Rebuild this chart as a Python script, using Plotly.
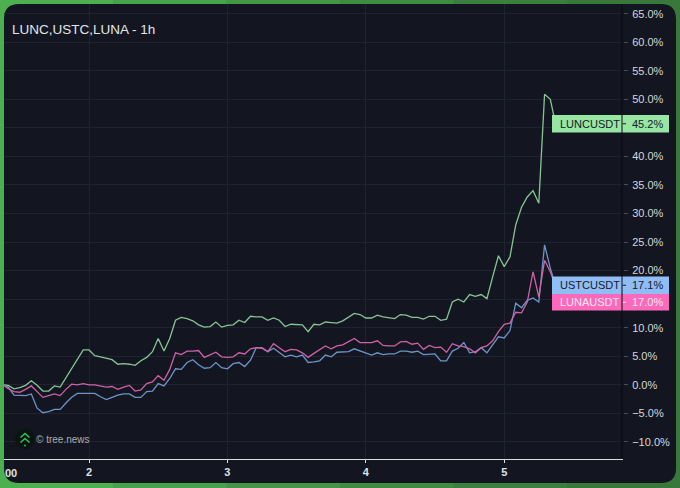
import plotly.graph_objects as go

W, H = 680, 488

lunc = [0, -0.1, -0.7, -0.5, -0.1, 0.7, -0.1, -1.1, -1.1, -0.2, -0.4, 1.2, 2.9, 4.5, 6.1, 6.1, 5.1, 4.9, 4.6, 4.4,
        3.6, 3.7, 3.6, 3.4, 4.2, 4.8, 5.8, 8.1, 5.9, 8.1, 11.3, 11.8, 11.6, 11.2, 10.5, 10.1, 10.2, 11.0, 10.1, 10.4,
        10.5, 11.3, 10.9, 12.0, 11.9, 11.9, 11.3, 11.7, 11.3, 10.2, 10.6, 10.6, 10.5, 9.3, 10.6, 10.5, 11.0, 10.9, 10.8, 11.2,
        11.9, 12.5, 12.3, 11.7, 11.7, 12.2, 11.9, 11.7, 11.6, 12.3, 12.2, 11.8, 11.8, 11.5, 12.0, 12.0, 11.3, 11.5, 14.5, 15.0,
        14.5, 15.8, 15.5, 15.8, 15.1, 18.9, 22.6, 20.7, 22.4, 28.0, 31.1, 32.9, 34.0, 31.8, 50.9, 50.0, 45.2]
ustc = [0, -0.4, -1.8, -1.9, -1.9, -1.6, -4.1, -4.9, -4.7, -4.3, -4.3, -3.2, -2.2, -1.5, -1.5, -1.5, -1.5, -2.1, -2.6, -2.2,
        -1.8, -1.6, -1.6, -2.2, -2.2, -1.2, -1.1, 0.2, -0.2, 1.1, 2.8, 2.7, 3.9, 4.4, 3.5, 2.9, 3.0, 3.9, 3.0, 2.8,
        3.7, 3.9, 3.2, 4.3, 6.5, 6.5, 5.8, 6.4, 5.7, 4.9, 5.2, 4.9, 5.2, 3.9, 4.0, 4.2, 5.2, 4.9, 5.7, 5.8,
        5.8, 6.3, 5.9, 5.5, 5.2, 5.6, 5.3, 5.4, 5.4, 5.9, 5.9, 5.7, 5.9, 5.3, 5.4, 5.4, 4.2, 4.2, 5.9, 6.4,
        7.4, 5.6, 5.8, 6.5, 5.6, 7.0, 8.4, 8.2, 9.5, 14.3, 13.5, 14.8, 15.2, 14.5, 24.5, 20.4, 17.1]
luna = [0, -0.7, -1.2, -1.3, -0.8, -0.2, -1.2, -2.2, -1.9, -1.6, -1.9, -0.8, 0.1, 0, 0.2, 0, 0, -0.2, -0.4, -0.3,
        -0.8, -0.4, -0.1, -1.1, -0.9, 0.2, 0.5, 1.6, 0.8, 2.7, 5.6, 5.3, 5.9, 5.9, 6.0, 4.8, 5.3, 5.7, 4.9, 4.8,
        4.9, 5.6, 5.4, 6.3, 6.5, 6.4, 5.8, 7.2, 6.5, 5.8, 6.2, 6.1, 5.6, 4.8, 5.5, 6.2, 6.8, 6.3, 6.8, 7.0,
        7.5, 8.1, 7.4, 7.4, 7.4, 7.7, 6.9, 6.8, 6.8, 7.5, 7.6, 7.1, 7.3, 6.2, 6.9, 6.5, 6.6, 5.7, 7.2, 6.8,
        6.7, 6.3, 5.6, 6.5, 6.8, 7.7, 9.3, 10.6, 10.8, 12.7, 12.6, 14.5, 19.8, 15.4, 21.8, 19.8, 17.0]
hours = list(range(len(lunc)))

y_ticks = [65, 60, 55, 50, 45, 40, 35, 30, 25, 20, 15, 10, 5, 0, -5, -10]
y_hidden = [45, 15]  # covered by the price labels in the reference
y_labels = ["" if v in y_hidden else f"{v:.1f}%".replace("-", "\u2212") for v in y_ticks]
x_ticks = [15, 39, 63, 87]
x_labels = ["2", "3", "4", "5"]

GREEN_STOPS = ["#4caf50", "#47a34b", "#429646", "#3e8b42", "#3a7f3d", "#38793b"]
PANEL = "#131620"
GRID = "#1f2330"
FONT = "Liberation Sans"


def px(x):
    return x / W


def py(y):
    return 1 - y / H


def path(points, close=False):
    s = " ".join(("M" if i == 0 else "L") + f" {px(a):.5f} {py(b):.5f}" for i, (a, b) in enumerate(points))
    return s + (" Z" if close else "")


def rounded(l, t, r, b, rad):
    k = rad
    return (f"M {px(l+k):.5f} {py(t):.5f} L {px(r-k):.5f} {py(t):.5f} "
            f"Q {px(r):.5f} {py(t):.5f} {px(r):.5f} {py(t+k):.5f} L {px(r):.5f} {py(b-k):.5f} "
            f"Q {px(r):.5f} {py(b):.5f} {px(r-k):.5f} {py(b):.5f} L {px(l+k):.5f} {py(b):.5f} "
            f"Q {px(l):.5f} {py(b):.5f} {px(l):.5f} {py(b-k):.5f} L {px(l):.5f} {py(t+k):.5f} "
            f"Q {px(l):.5f} {py(t):.5f} {px(l+k):.5f} {py(t):.5f} Z")


fig = go.Figure()
for name, vals, col in [("LUNCUSDT", lunc, "#86c592"), ("USTCUSDT", ustc, "#6c94c8"), ("LUNAUSDT", luna, "#cf62a6")]:
    fig.add_trace(go.Scatter(x=hours, y=vals, mode="lines", name=name, line=dict(color=col, width=1.3), hoverinfo="skip"))

shapes = []
band = W / len(GREEN_STOPS)
for i, c in enumerate(GREEN_STOPS):
    shapes.append(dict(type="rect", xref="paper", yref="paper", x0=px(i * band), x1=px((i + 1) * band), y0=0, y1=1,
                       fillcolor=c, line=dict(width=0), layer="below"))
shapes.append(dict(type="path", xref="paper", yref="paper", path=rounded(4, 4, 676, 483, 15),
                   fillcolor=PANEL, line=dict(width=0), layer="below"))

# price labels
boxes = [("LUNCUSDT", "45.2%", 115, 132.5, "#98e6a3", "#14202a"),
         ("USTCUSDT", "17.1%", 276.5, 294, "#90bdf5", "#14202a"),
         ("LUNAUSDT", "17.0%", 294, 310.5, "#fb69bb", "#fde8f3")]
annotations = []
for name, val, t, b, fill, txt in boxes:
    shapes.append(dict(type="rect", xref="paper", yref="paper", x0=px(552), x1=px(669), y0=py(t), y1=py(b),
                       fillcolor=fill, line=dict(width=0), layer="above"))
    mid = (t + b) / 2
    shapes.append(dict(type="line", xref="paper", yref="paper", x0=px(622.5), x1=px(626), y0=py(mid), y1=py(mid),
                       line=dict(color=txt, width=1), layer="above"))
    annotations.append(dict(text=name, xref="paper", yref="paper", x=px(558), y=py(mid), xanchor="left", yanchor="middle",
                            showarrow=False, font=dict(family=FONT, size=11, color=txt)))
    annotations.append(dict(text=val, xref="paper", yref="paper", x=px(630), y=py(mid), xanchor="left", yanchor="middle",
                            showarrow=False, font=dict(family=FONT, size=11, color=txt)))
shapes.append(dict(type="line", xref="paper", yref="paper", x0=px(622), x1=px(622), y0=py(4), y1=py(459),
                   line=dict(color="#08090d", width=1), layer="above"))

# logo
shapes.append(dict(type="circle", xref="paper", yref="paper", x0=px(15), x1=px(35), y0=py(449), y1=py(429),
                   fillcolor="#0b1410", line=dict(width=0), layer="above"))
for pts in ([(20.5, 437.5), (25, 433.5), (29.5, 437.5)], [(20.5, 442.5), (25, 438.5), (29.5, 442.5)]):
    shapes.append(dict(type="path", xref="paper", yref="paper", path=path(pts),
                       line=dict(color="#2fc25b", width=1.6), layer="above"))
shapes.append(dict(type="circle", xref="paper", yref="paper", x0=px(24), x1=px(26), y0=py(446.5), y1=py(444.5),
                   fillcolor="#2fc25b", line=dict(width=0), layer="above"))

annotations += [
    dict(text="LUNC,USTC,LUNA - 1h", xref="paper", yref="paper", x=px(10), y=py(29), xanchor="left", yanchor="middle",
         showarrow=False, font=dict(family=FONT, size=13.5, color="#e3e5e8")),
    dict(text="© tree.news", xref="paper", yref="paper", x=px(34), y=py(439.5), xanchor="left", yanchor="middle",
         showarrow=False, font=dict(family=FONT, size=10, color="#a8abb2")),
    dict(text="00", xref="paper", yref="paper", x=px(3), y=py(472.5), xanchor="left", yanchor="middle",
         showarrow=False, font=dict(family=FONT, size=11, color="#dfe1e5", weight=700)),
]

fig.update_layout(
    width=W, height=H, autosize=False,
    margin=dict(l=0, r=0, t=0, b=0, pad=0),
    paper_bgcolor="#429646", plot_bgcolor="rgba(0,0,0,0)",
    showlegend=False, shapes=shapes, annotations=annotations,
    xaxis=dict(domain=[px(4), px(623)], range=[0.26, 107.6], tickmode="array", tickvals=x_ticks, ticktext=x_labels,
               showgrid=True, gridcolor=GRID, gridwidth=1, zeroline=False, showline=True, linecolor="#d9dbe0", linewidth=1,
               ticks="outside", ticklen=3, tickcolor="#d9dbe0",
               tickfont=dict(family=FONT, size=11, color="#dfe1e5", weight=700)),
    yaxis=dict(domain=[py(459), py(4)], range=[-13.0, 66.7], side="right", tickmode="array", tickvals=y_ticks, ticktext=y_labels,
               showgrid=True, gridcolor=GRID, gridwidth=1, zeroline=False, showline=False,
               ticks="outside", ticklen=4, tickcolor="#4a4d57", ticklabelstandoff=2,
               tickfont=dict(family=FONT, size=11, color="#d5d7dc")),
)

fig.write_html("out.html", config=dict(displayModeBar=False), post_script="document.body.style.margin='0';")
